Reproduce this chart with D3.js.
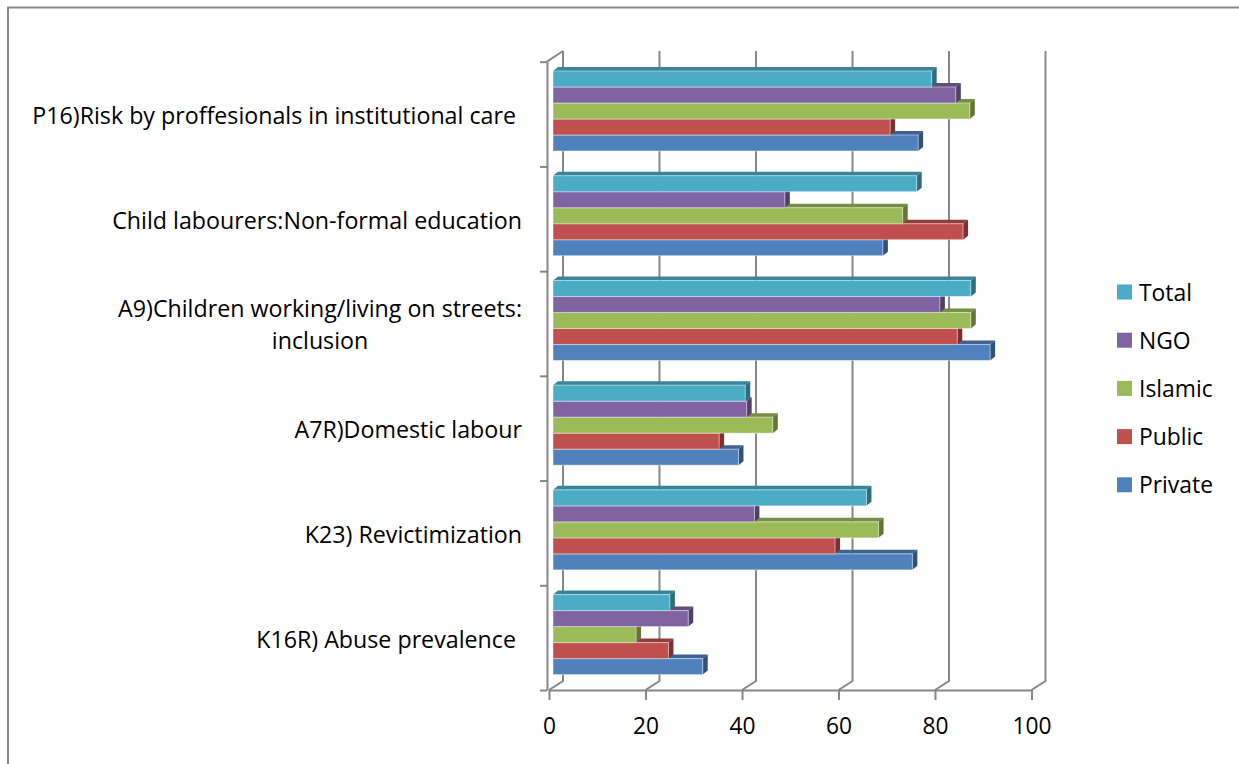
<!DOCTYPE html>
<html>
<head>
<meta charset="utf-8">
<script src="https://cdn.jsdelivr.net/npm/d3@7"></script>
<style>
  html, body { margin: 0; padding: 0; background: #fff; }
  svg { display: block; font-family: "Open Sans", "Liberation Sans", sans-serif; }
</style>
</head>
<body>
<svg id="chart" width="1239" height="764"></svg>
<script>
// Categories, top to bottom
const categories = [
  "P16)Risk by proffesionals in institutional care ",
  "Child labourers:Non-formal education",
  "A9)Children working/living on streets:\ninclusion",
  "A7R)Domestic labour",
  "K23) Revictimization",
  "K16R) Abuse prevalence "
];

// Series as listed in the legend (top to bottom within each group)
const series = ["Total", "NGO", "Islamic", "Public", "Private"];
const seriesColors = ["#4BACC6", "#8064A2", "#9BBB59", "#C0504D", "#4F81BD"];

// Values per series, in category order
const totalValues   = [78.4, 75.3, 86.5, 39.8, 64.9, 24.2];
const ngoValues     = [83.4, 48.0, 80.1, 40.1, 41.7, 28.0];
const islamicValues = [86.3, 72.4, 86.5, 45.5, 67.4, 17.2];
const publicValues  = [69.8, 84.9, 83.7, 34.4, 58.4, 23.9];
const privateValues = [75.6, 68.3, 90.5, 38.4, 74.4, 31.0];
const seriesValues = [totalValues, ngoValues, islamicValues, publicValues, privateValues];

const xTicks = [0, 20, 40, 60, 80, 100];

const svg = d3.select("#chart");
const GRID = "#878787";
const FONT = "'Open Sans', 'Liberation Sans', sans-serif";

// Pick a font size so that a reference string spans a given width
function fitSize(str, width) {
  const t = svg.append("text").attr("font-family", FONT).attr("font-size", 20).text(str);
  const w = t.node().getComputedTextLength();
  t.remove();
  return 20 * width / w;
}
const labelSize = fitSize("P16)Risk by proffesionals in institutional care", 484);
const tickSize = fitSize("100", 39);
const legendSize = fitSize("Private", 74);

// Chart area frame (top and left edges)
svg.append("path")
  .attr("d", "M8,764 L8,7.5 L1239,7.5")
  .attr("fill", "none").attr("stroke", "#8a8a8a").attr("stroke-width", 2);

// Front floor edge and back wall projection
const xFront = d3.scaleLinear().domain([0, 100]).range([549, 1031.5]);
const depthDx = 14, depthDy = -9;
const floorY = 690, wallTop = 51;
const xBack = v => xFront(v) + depthDx;

// Bars sit part way into the depth
const xBar = d3.scaleLinear().domain([0, 100]).range([553, 1036]);
const barDx = 5, barDy = -4;

// Category slots along the vertical axis
const yBand = d3.scaleBand().domain(categories).range([61.7, floorY]).paddingInner(0).paddingOuter(0);
const ySeries = d3.scaleBand().domain(series).range([9.3, 89.3]);

// Back wall gridlines with floor slant
const grid = svg.append("g").attr("fill", "none").attr("stroke", GRID).attr("stroke-width", 2);
xTicks.forEach(v => {
  grid.append("path")
    .attr("d", `M${xBack(v)},${wallTop} L${xBack(v)},${floorY + depthDy} L${xFront(v)},${floorY}`);
});

// Left wall top edge
grid.append("path")
  .attr("d", `M${xFront(0) - 2},${yBand.range()[0]} L${xBack(0)},${wallTop}`);

// Vertical axis with ticks at slot boundaries
const yLin = d3.scaleLinear().domain([0, categories.length]).range([floorY, yBand.range()[0]]);
const yAxis = svg.append("g")
  .attr("transform", `translate(${xFront(0) - 2},0)`)
  .call(d3.axisLeft(yLin).tickValues(d3.range(0, categories.length + 1)).tickFormat("").tickSize(7).tickSizeOuter(0));
yAxis.selectAll("path, line").attr("stroke", GRID).attr("stroke-width", 2);

// Horizontal value axis along the front floor edge
const xAxis = svg.append("g")
  .attr("transform", `translate(0,${floorY})`)
  .call(d3.axisBottom(xFront).tickValues(xTicks).tickSize(10).tickSizeOuter(0).tickPadding(18));
xAxis.selectAll("path, line").attr("stroke", GRID).attr("stroke-width", 2);
xAxis.selectAll("text").attr("font-size", tickSize).attr("fill", "#000")
  .attr("font-family", FONT);

// Bars: draw bottom series first so upper bars overlap lower top faces
const barsG = svg.append("g");
const h = ySeries.bandwidth();
categories.forEach((cat, ci) => {
  const g = barsG.append("g").attr("transform", `translate(0,${yBand(cat)})`);
  for (let si = series.length - 1; si >= 0; si--) {
    const v = seriesValues[si][ci];
    const c = d3.color(seriesColors[si]);
    const x0 = xBar(0), x1 = xBar(v);
    const y0 = ySeries(series[si]), y1 = y0 + h;
    // top face
    g.append("path")
      .attr("d", `M${x0},${y0} L${x0 + barDx},${y0 + barDy} L${x1 + barDx},${y0 + barDy} L${x1},${y0} Z`)
      .attr("fill", c.darker(0.75));
    // side face
    g.append("path")
      .attr("d", `M${x1},${y0} L${x1 + barDx},${y0 + barDy} L${x1 + barDx},${y1 + barDy} L${x1},${y1} Z`)
      .attr("fill", c.darker(1.3));
    // front face
    g.append("rect")
      .attr("x", x0).attr("y", y0).attr("width", x1 - x0).attr("height", h)
      .attr("fill", seriesColors[si])
      .attr("stroke", "rgba(255,255,255,0.45)").attr("stroke-width", 1);
  }
});

// Category labels, right aligned; multi-line labels centred on each other
const labelRight = 522;
categories.forEach(cat => {
  const lines = cat.split("\n");
  const cy = yBand(cat) + yBand.bandwidth() / 2 + 1;
  const lineH = 32;
  const t = svg.append("text").attr("font-size", labelSize).attr("fill", "#000")
    .attr("font-family", FONT).style("white-space", "pre");
  const spans = lines.map((ln, i) => t.append("tspan")
    .attr("y", cy + (i - (lines.length - 1) / 2) * lineH)
    .attr("dominant-baseline", "central")
    .text(ln));
  const widths = spans.map(s => s.node().getComputedTextLength());
  const maxW = d3.max(widths);
  const centre = labelRight - maxW / 2;
  spans.forEach(s => s.attr("x", centre).attr("text-anchor", "middle"));
});

// Legend
const legend = svg.append("g");
series.forEach((s, i) => {
  const ly = 292 + i * 48.2;
  legend.append("rect").attr("x", 1117).attr("y", ly - 7.5).attr("width", 15).attr("height", 15)
    .attr("fill", seriesColors[i]);
  legend.append("text").attr("x", 1139).attr("y", ly).attr("dominant-baseline", "central")
    .attr("font-family", FONT).attr("font-size", legendSize).attr("fill", "#000").text(s);
});
</script>
</body>
</html>
